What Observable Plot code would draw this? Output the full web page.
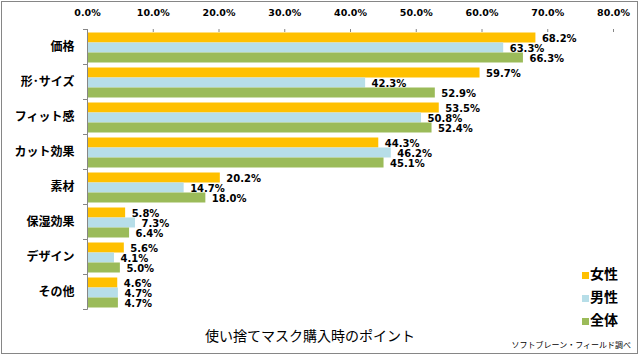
<!DOCTYPE html>
<html><head><meta charset="utf-8">
<script src="https://cdn.jsdelivr.net/npm/d3@7"></script>
<script src="https://cdn.jsdelivr.net/npm/@observablehq/plot@0.6"></script>
<style>
body{margin:0;background:#fff;}
#wrap{position:relative;width:640px;height:356px;overflow:hidden;background:#fff;}
#frame{position:absolute;left:1px;top:1px;width:635px;height:351px;border:1px solid #868686;pointer-events:none;}
#wrap svg{position:absolute;left:0;top:0;}
#title{position:absolute;left:0;width:620px;top:326px;text-align:center;font-family:"Noto Sans CJK JP",sans-serif;font-size:14px;line-height:18px;color:#000;}
#source{position:absolute;right:9px;top:339px;font-family:"Noto Sans CJK JP",sans-serif;font-size:8px;line-height:12px;color:#000;}
#legend{position:absolute;left:582px;top:261px;font-family:"Noto Sans CJK JP",sans-serif;font-size:14px;font-weight:bold;color:#000;}
#legend .item{height:23px;line-height:22px;display:flex;align-items:center;}
#legend .sw{width:7px;height:7px;margin-right:1px;margin-top:6px;}
</style></head><body><div id="wrap"><div id="frame"></div></div>
<script>
const categories = ["価格","形･サイズ","フィット感","カット効果","素材","保湿効果","デザイン","その他"];
const series = ["女性","男性","全体"];
const women = [68.2, 59.7, 53.5, 44.3, 20.2, 5.8, 5.6, 4.6];
const men   = [63.3, 42.3, 50.8, 46.2, 14.7, 7.3, 4.1, 4.7];
const total = [66.3, 52.9, 52.4, 45.1, 18.0, 6.4, 5.0, 4.7];
const xTicks = [0, 10, 20, 30, 40, 50, 60, 70, 80];
const colors = ["#FFC000", "#B7DEE8", "#9BBB59"];
const titleText = "使い捨てマスク購入時のポイント";
const sourceText = "ソフトブレーン・フィールド調べ";

const seriesValues = [women, men, total];
const data = categories.flatMap((c, i) => seriesValues.map((arr, j) => ({cat: c, series: series[j], value: arr[i]})));
const fmt = d => d.toFixed(1) + "%";

const chart = Plot.plot({
  width: 640, height: 356,
  marginLeft: 87, marginRight: 27, marginTop: 27.5, marginBottom: 44.5,
  style: {background: "transparent", overflow: "visible"},
  x: {domain: [0, 80], axis: null},
  fy: {domain: categories, paddingInner: 0.1, paddingOuter: 0.05, axis: null},
  y: {domain: series, padding: 0, axis: null},
  color: {domain: series, range: colors},
  marks: [
    Plot.axisX({anchor: "top", ticks: xTicks, tickFormat: fmt, tickSize: 3, tickPadding: 13, label: null, stroke: "#868686"}),
    Plot.axisFy({anchor: "left", tickSize: 0, tickPadding: 13, label: null}),
    Plot.barX(data, {fy: "cat", y: "series", x: "value", fill: "series"}),
    Plot.ruleX([0], {stroke: "#868686", insetTop: -1.75, insetBottom: -1.75}),
    Plot.text(data, {fy: "cat", y: "series", x: "value", text: d => fmt(d.value), dx: 6, dy: 0.5,
      textAnchor: "start", fill: "#000", fontFamily: "DejaVu Sans", fontSize: 10, fontWeight: "bold"})
  ]
});

document.getElementById("wrap").appendChild(chart);

// style axis texts directly
d3.select(chart).selectAll('[aria-label="x-axis tick label"] text, [aria-label="x-axis tick label"]')
  .style("font-family", "'DejaVu Sans', sans-serif").style("font-size", "9.5px")
  .style("font-weight", "bold").style("fill", "#000");
d3.select(chart).selectAll('[aria-label="fy-axis tick label"] text, [aria-label="fy-axis tick label"]')
  .style("font-family", "'Noto Sans CJK JP', sans-serif").style("font-size", "12px")
  .style("font-weight", "bold").style("fill", "#000");

// category boundary ticks on the left axis, from the library's scales
const fy = chart.scale("fy"), xs = chart.scale("x");
const gap = (fy.step - fy.bandwidth) / 2;
const bounds = categories.map(c => fy.apply(c) - gap).concat([fy.apply(categories[categories.length - 1]) + fy.bandwidth + gap]);
const x0 = xs.apply(0);
d3.select(chart).append("g").attr("stroke", "#868686")
  .selectAll("line").data(bounds).join("line")
  .attr("x1", x0 - 4).attr("x2", x0).attr("y1", d => d).attr("y2", d => d);

const wrap = document.getElementById("wrap");
const t = document.createElement("div"); t.id = "title"; t.textContent = titleText; wrap.appendChild(t);
const s = document.createElement("div"); s.id = "source"; s.textContent = sourceText; wrap.appendChild(s);
const lg = document.createElement("div"); lg.id = "legend";
series.forEach((name, i) => {
  const it = document.createElement("div"); it.className = "item";
  const sw = document.createElement("span"); sw.className = "sw"; sw.style.background = colors[i];
  const tx = document.createElement("span"); tx.textContent = name;
  it.appendChild(sw); it.appendChild(tx); lg.appendChild(it);
});
wrap.appendChild(lg);
</script>
</body></html>
